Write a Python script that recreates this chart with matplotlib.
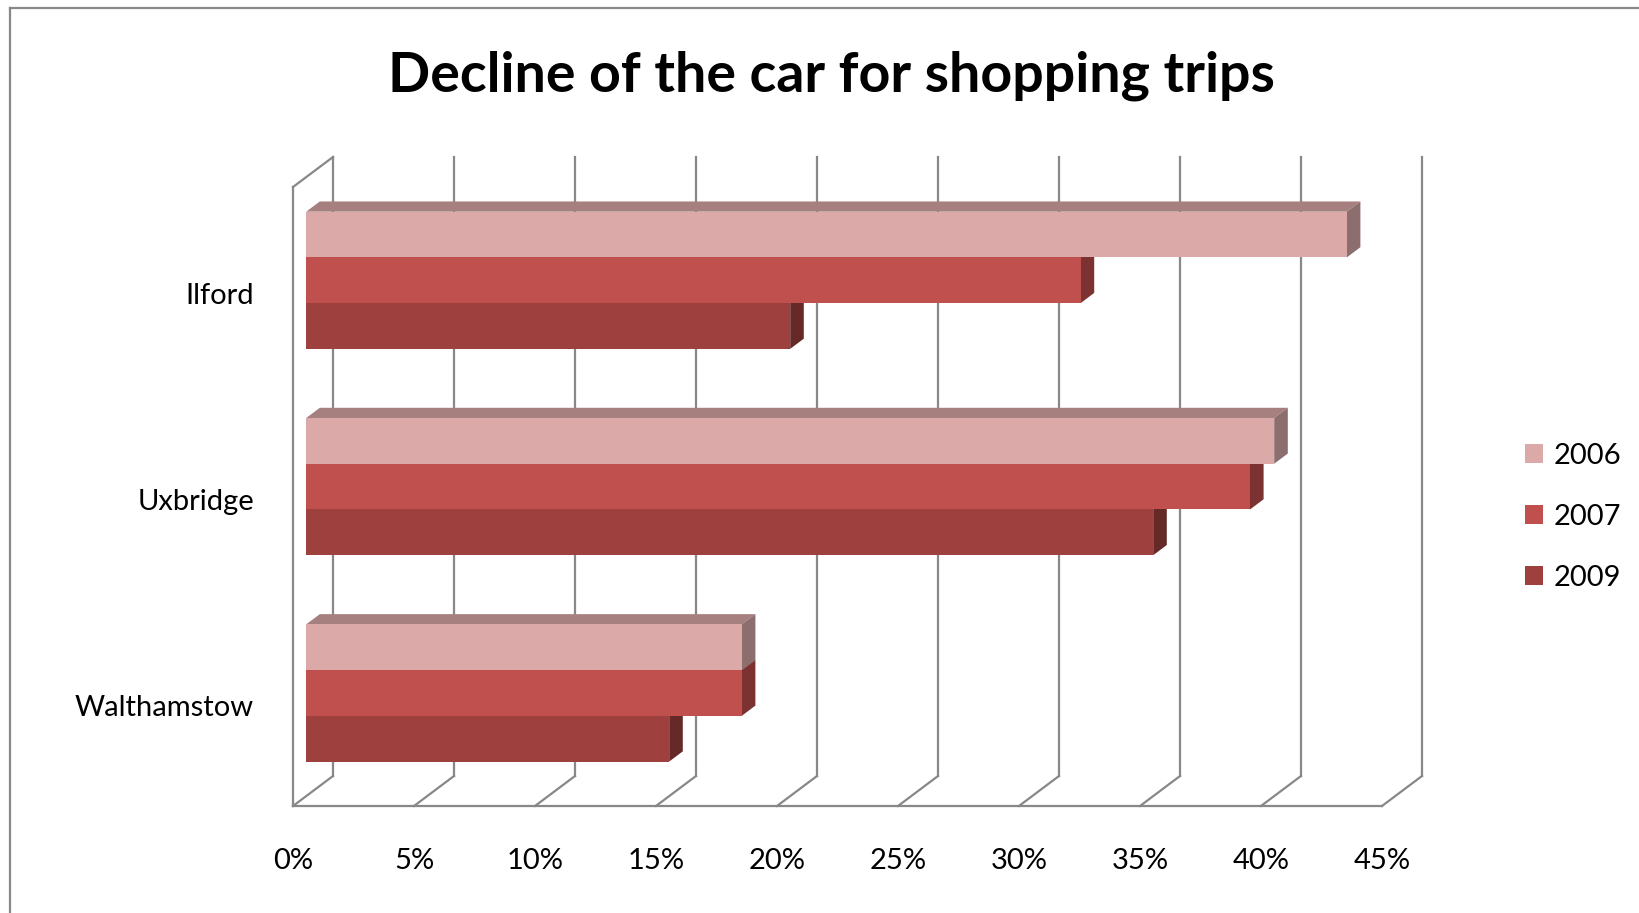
import numpy as np
import matplotlib
matplotlib.use('Agg')
import matplotlib.pyplot as plt
from matplotlib.patches import Polygon, Patch
from matplotlib.lines import Line2D
from matplotlib.transforms import IdentityTransform, ScaledTranslation

# share of shopping trips made by car, per town centre
categories = ['Ilford', 'Uxbridge', 'Walthamstow']
years = ['2006', '2007', '2009']
share_2006 = [43, 40, 18]
share_2007 = [32, 39, 18]
share_2009 = [20, 35, 15]
x_ticks = [0, 5, 10, 15, 20, 25, 30, 35, 40, 45]
x_tick_labels = [f'{v}%' for v in x_ticks]

series = [share_2006, share_2007, share_2009]
front_colors = ['#DAA9A8', '#C0504D', '#9E413E']
top_colors = ['#A6807F', '#93403E', '#7A3230']
side_colors = ['#8B6E6D', '#7B3230', '#652928']
GRID = '#888888'

plt.rcParams['font.family'] = ['Lato', 'DejaVu Sans']

W, H = 1639, 913
fig = plt.figure(figsize=(W / 100, H / 100), dpi=100)

# axes = front plane of the 3D box
ax = fig.add_axes([293 / W, 107 / H, 1089 / W, 619 / H])
ax.set_xlim(0, 45)
ax.set_ylim(2.5, -0.5)
for s in ax.spines.values():
    s.set_visible(False)
ax.patch.set_visible(False)
ax.set_xticks(x_ticks, x_tick_labels, fontsize=21)
ax.set_yticks(range(len(categories)), categories, fontsize=21)
ax.tick_params(length=0)
ax.tick_params(axis='x', pad=30.5)
ax.tick_params(axis='y', pad=28)
nudge = ScaledTranslation(0, -3 / 100, fig.dpi_scale_trans)
for lbl in ax.get_yticklabels():
    lbl.set_transform(lbl.get_transform() + nudge)

# depth of the box (display pixels, right and up)
DEPTH = np.array([40.0, 30.0])


def proj(x, y, t):
    return ax.transData.transform((x, y)) + t * DEPTH


def edge(p, q):
    ax.add_line(Line2D([p[0], q[0]], [p[1], q[1]], transform=IdentityTransform(),
                       color=GRID, lw=1.6, zorder=1, clip_on=False))


def face(pts, color):
    ax.add_patch(Polygon(pts, closed=True, transform=IdentityTransform(),
                         facecolor=color, edgecolor='none', zorder=3, clip_on=False))


y_top, y_bot = -0.5, 2.5

# back wall gridlines and floor
for x in x_ticks:
    edge(proj(x, y_bot, 1), proj(x, y_top, 1))
    edge(proj(x, y_bot, 0), proj(x, y_bot, 1))
edge(proj(0, y_bot, 0), proj(45, y_bot, 0))
# left wall
edge(proj(0, y_bot, 0), proj(0, y_top, 0))
edge(proj(0, y_top, 0), proj(0, y_top, 1))

# bars, lower series first so the upper bar hides its top face
t0, t1 = 0.33, 0.67
group = 0.665
bar_h = group / len(series)
for i in range(len(categories)):
    for j in reversed(range(len(series))):
        v = series[j][i]
        top = i - group / 2 + j * bar_h
        bot = top + bar_h
        face([proj(0, top, t0), proj(v, top, t0), proj(v, top, t1), proj(0, top, t1)], top_colors[j])
        face([proj(v, top, t0), proj(v, top, t1), proj(v, bot, t1), proj(v, bot, t0)], side_colors[j])
        face([proj(0, top, t0), proj(v, top, t0), proj(v, bot, t0), proj(0, bot, t0)], front_colors[j])

fig.text(831 / W, 1 - 76 / H, 'Decline of the car for shopping trips',
         ha='center', va='center', fontsize=40, fontweight='bold')

handles = [Patch(facecolor=c, edgecolor='none') for c in front_colors]
fig.legend(handles, years, loc='center left', bbox_to_anchor=(1525 / W, 1 - 517 / H),
           frameon=False, fontsize=21, handlelength=0.62, handleheight=0.62,
           handletextpad=0.35, labelspacing=1.2, borderpad=0, borderaxespad=0)

# chart area border
fig.add_artist(Line2D([10 / W, 1], [1 - 8 / H, 1 - 8 / H], transform=fig.transFigure, color=GRID, lw=1.6))
fig.add_artist(Line2D([10 / W, 10 / W], [0, 1 - 8 / H], transform=fig.transFigure, color=GRID, lw=1.6))

fig.savefig('out.png', dpi=100)
